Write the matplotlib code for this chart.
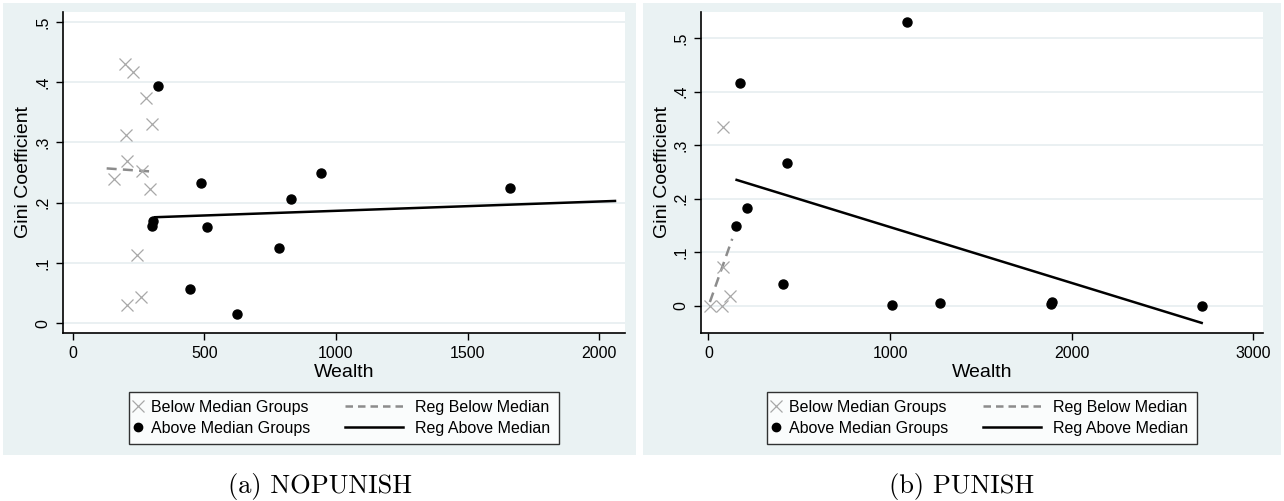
import matplotlib
matplotlib.use("Agg")
import matplotlib.pyplot as plt
from matplotlib.lines import Line2D
from matplotlib.patches import Rectangle
from matplotlib.legend_handler import HandlerLine2D

# ---- data: NOPUNISH ----
np_below_x = [199, 230, 278, 300, 202, 206, 157, 263, 295, 244, 206, 259]
np_below_y = [0.430, 0.417, 0.374, 0.330, 0.313, 0.270, 0.240, 0.253, 0.222, 0.114, 0.030, 0.044]
np_above_x = [323, 486, 944, 828, 303, 306, 509, 785, 447, 624, 1661]
np_above_y = [0.393, 0.233, 0.250, 0.206, 0.162, 0.170, 0.159, 0.125, 0.057, 0.015, 0.225]
np_reg_below_x = [129, 294]
np_reg_below_y = [0.257, 0.252]
np_reg_above_x = [313, 2060]
np_reg_above_y = [0.176, 0.203]

# ---- data: PUNISH ----
p_below_x = [78, 81, 10, 76, 118]
p_below_y = [0.334, 0.073, 0.0, 0.0, 0.018]
p_above_x = [1091, 173, 432, 214, 153, 410, 1012, 1275, 1888, 1892, 2716]
p_above_y = [0.530, 0.416, 0.267, 0.182, 0.148, 0.040, 0.001, 0.006, 0.003, 0.007, 0.0]
p_reg_below_x = [8, 131]
p_reg_below_y = [0.007, 0.125]
p_reg_above_x = [155, 2716]
p_reg_above_y = [0.235, -0.032]

y_ticks = [0, 0.1, 0.2, 0.3, 0.4, 0.5]
y_ticklabels = ["0", ".1", ".2", ".3", ".4", ".5"]

BG = "#EAF2F3"
GRID = "#E6EEF0"
XCOL = "#A8A8A8"
DASHCOL = "#8C8C8C"

W, H = 1284, 501
plt.rcParams["font.family"] = ["Liberation Sans", "DejaVu Sans"]


class MarkerLeft(HandlerLine2D):
    # narrow handle so the marker sits just before its label
    def legend_artist(self, legend, orig_handle, fontsize, handlebox):
        handlebox.width = 0.05 * fontsize
        return super().legend_artist(legend, orig_handle, fontsize, handlebox)


def panel(fig, rect, bg_rect, data, xlim, ylim, xticks, caption):
    bx0, by0, bx1, by1 = bg_rect
    fig.patches.append(Rectangle((bx0 / W, 1 - by1 / H), (bx1 - bx0) / W, (by1 - by0) / H,
                                 transform=fig.transFigure, facecolor=BG, edgecolor="none", zorder=-1))
    x0, y0, x1, y1 = rect
    ax = fig.add_axes([x0 / W, 1 - y1 / H, (x1 - x0) / W, (y1 - y0) / H])
    ax.set_facecolor("white")
    bx, by, ax_x, ax_y, rbx, rby, rax, ray = data

    for yt in y_ticks:
        ax.axhline(yt, color=GRID, lw=1.2, zorder=0)

    ax.plot(bx, by, ls="none", marker="x", ms=8, mew=0.9, color=XCOL, zorder=3)
    ax.plot(ax_x, ax_y, ls="none", marker="o", ms=6.5, color="black", zorder=3)
    ax.plot(rbx, rby, ls=(0, (4, 2.5)), lw=1.8, color=DASHCOL, zorder=2)
    ax.plot(rax, ray, ls="-", lw=1.8, color="black", zorder=2)

    ax.set_xlim(*xlim)
    ax.set_ylim(*ylim)
    ax.set_xticks(xticks)
    ax.set_yticks(y_ticks)
    ax.set_yticklabels(y_ticklabels, rotation=90, va="center")
    ax.tick_params(labelsize=11.5, length=5, width=1, colors="black", pad=4)
    for s in ["top", "right"]:
        ax.spines[s].set_visible(False)
    for s in ["left", "bottom"]:
        ax.spines[s].set_linewidth(1.2)
    ax.set_xlabel("Wealth", fontsize=14, labelpad=2)
    ax.set_ylabel("Gini Coefficient", fontsize=14, labelpad=2)

    h_below = Line2D([], [], ls="none", marker="x", ms=8, mew=0.9, color=XCOL)
    h_above = Line2D([], [], ls="none", marker="o", ms=6, color="black")
    h_rb = Line2D([], [], ls=(0, (3, 2)), lw=1.8, color=DASHCOL)
    h_ra = Line2D([], [], ls="-", lw=1.8, color="black")
    leg = ax.legend([h_below, h_above, h_rb, h_ra],
                    ["Below Median Groups", "Above Median Groups", "Reg Below Median", "Reg Above Median"],
                    ncol=2, loc="upper center", bbox_to_anchor=(0.5, -0.1825),
                    fontsize=11.5, frameon=True, fancybox=False, edgecolor="black",
                    handlelength=3.6, handletextpad=0.8, columnspacing=2.2,
                    borderpad=0.5, labelspacing=0.35, borderaxespad=0,
                    handler_map={h_below: MarkerLeft(numpoints=1), h_above: MarkerLeft(numpoints=1)})
    leg.get_frame().set_linewidth(1.0)

    cx = (bx0 + bx1) / 2 / W
    fig.text(cx, 1 - 487 / H, caption, ha="center", va="center", fontsize=19, family="cmr10")
    return ax


fig = plt.figure(figsize=(W / 100, H / 100), dpi=100)
fig.patch.set_facecolor("white")

panel(fig, (62.7, 11.7, 625, 333.3), (3, 3, 636, 455),
      (np_below_x, np_below_y, np_above_x, np_above_y,
       np_reg_below_x, np_reg_below_y, np_reg_above_x, np_reg_above_y),
      (-38, 2098), (-0.0166, 0.517), [0, 500, 1000, 1500, 2000], "(a) NOPUNISH")

panel(fig, (701, 11.7, 1262.7, 333.3), (643, 3, 1281, 455),
      (p_below_x, p_below_y, p_above_x, p_above_y,
       p_reg_below_x, p_reg_below_y, p_reg_above_x, p_reg_above_y),
      (-41, 3052), (-0.0514, 0.549), [0, 1000, 2000, 3000], "(b) PUNISH")

fig.savefig("out.png", dpi=100, facecolor="white")
